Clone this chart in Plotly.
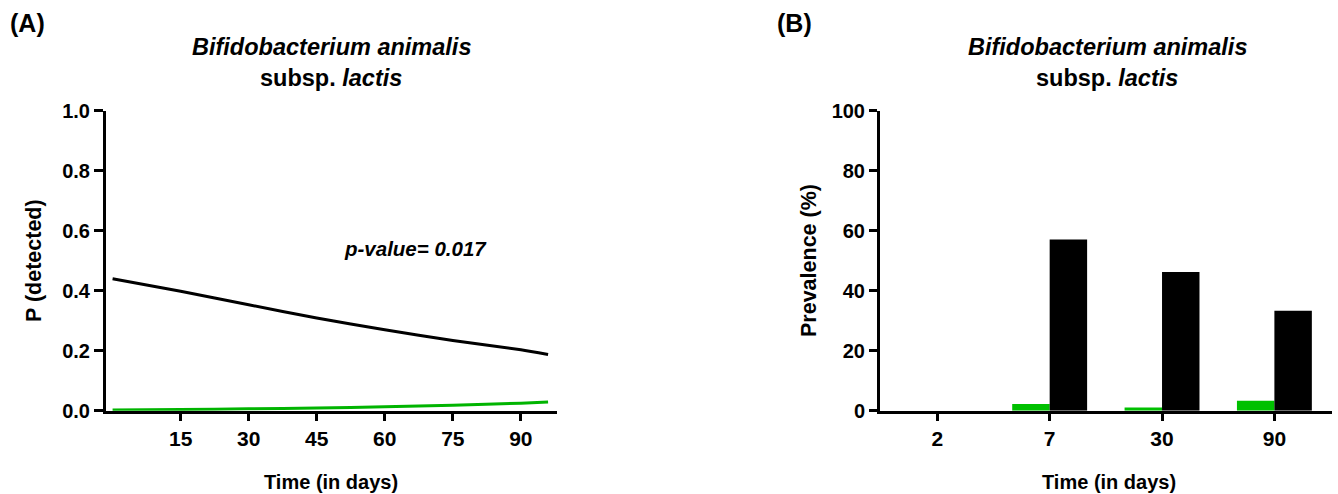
import plotly.graph_objects as go

# ---------------- data ----------------
# Panel A: fitted probability of detection over time
days = [0, 15, 30, 45, 60, 75, 90, 96]
p_black = [0.440, 0.398, 0.353, 0.309, 0.270, 0.234, 0.203, 0.187]
p_green = [0.002, 0.004, 0.0065, 0.009, 0.013, 0.018, 0.025, 0.029]
a_ticks = [15, 30, 45, 60, 75, 90]
a_yticks = [0.0, 0.2, 0.4, 0.6, 0.8, 1.0]

# Panel B: prevalence (%) per time point
times = ["2", "7", "30", "90"]
prev_green = [0.0, 2.2, 1.1, 3.3]
prev_black = [0.0, 57.1, 46.2, 33.3]
b_yticks = [0, 20, 40, 60, 80, 100]

title_1 = "<b><i>Bifidobacterium animalis</i></b>"
title_2 = "<b>subsp. <i>lactis</i></b>"
pval_text = "<b><i>p-value= 0.017</i></b>"

GREEN_LINE = "#00b400"
GREEN_BAR = "#00c000"
FONT = "Liberation Sans, Arial, sans-serif"
W, H = 1338, 494


def px(x):
    return x / W


def py(y):
    return 1 - y / H


fig = go.Figure()

fig.add_trace(go.Scatter(x=days, y=p_black, mode="lines",
                         line=dict(color="black", width=3, shape="spline", smoothing=0.6),
                         xaxis="x", yaxis="y", showlegend=False))
fig.add_trace(go.Scatter(x=days, y=p_green, mode="lines",
                         line=dict(color=GREEN_LINE, width=3, shape="spline", smoothing=0.6),
                         xaxis="x", yaxis="y", showlegend=False))

fig.add_trace(go.Bar(x=times, y=prev_green, marker=dict(color=GREEN_BAR, line=dict(width=0)),
                     xaxis="x2", yaxis="y2", showlegend=False))
fig.add_trace(go.Bar(x=times, y=prev_black, marker=dict(color="black", line=dict(width=0)),
                     xaxis="x2", yaxis="y2", showlegend=False))

axis_common = dict(showline=True, linecolor="black", linewidth=3, showgrid=False,
                   zeroline=False, ticks="outside", tickcolor="black", tickwidth=3,
                   automargin=False)

fig.update_layout(
    width=W, height=H, autosize=False,
    margin=dict(l=0, r=0, t=0, b=0, pad=0, autoexpand=False),
    paper_bgcolor="white", plot_bgcolor="white",
    barmode="group", bargap=1/3, bargroupgap=0,
    font=dict(family=FONT, color="black"),
    xaxis=dict(domain=[px(106), px(556.7)], range=[-1.45, 97.9],
               tickvals=a_ticks, ticklen=7,
               tickfont=dict(family=FONT, size=21, color="black", weight="bold"),
               anchor="y", **axis_common),
    yaxis=dict(domain=[py(410.7), py(110.7)], range=[0, 1],
               tickvals=a_yticks, tickformat=".1f", ticklen=9,
               tickfont=dict(family=FONT, size=20, color="black", weight="bold"),
               anchor="x", **axis_common),
    xaxis2=dict(domain=[px(880), px(1331.7)], range=[-0.51, 3.51],
                type="category", ticklen=7,
                tickfont=dict(family=FONT, size=21, color="black", weight="bold"),
                anchor="y2", **axis_common),
    yaxis2=dict(domain=[py(410.7), py(110.7)], range=[0, 100],
                tickvals=b_yticks, ticklen=8,
                tickfont=dict(family=FONT, size=20, color="black", weight="bold"),
                anchor="x2", **axis_common),
)

ann = []


def add_text(text, x, y, size, xref="paper", yref="paper", textangle=0):
    ann.append(dict(text=text, x=x, y=y, xref=xref, yref=yref, showarrow=False,
                    xanchor="center", yanchor="middle", textangle=textangle,
                    font=dict(family=FONT, size=size, color="black")))


add_text("<b>(A)</b>", px(27), py(23.5), 25)
add_text("<b>(B)</b>", px(794), py(23.5), 25)
for cx in (331, 1107):
    add_text(title_1, px(cx), py(46.5), 23.5)
    add_text(title_2, px(cx), py(78), 23.5)
add_text("<b>Time (in days)</b>", px(331), py(482), 20)
add_text("<b>Time (in days)</b>", px(1109), py(482), 20)
add_text("<b>P (detected)</b>", px(34), py(261), 21.5, textangle=-90)
add_text("<b>Prevalence (%)</b>", px(809), py(261), 21.5, textangle=-90)
add_text(pval_text, 66.8, 0.542, 20.5, xref="x", yref="y")

fig.update_layout(annotations=ann)

fig.write_html("out.html")
